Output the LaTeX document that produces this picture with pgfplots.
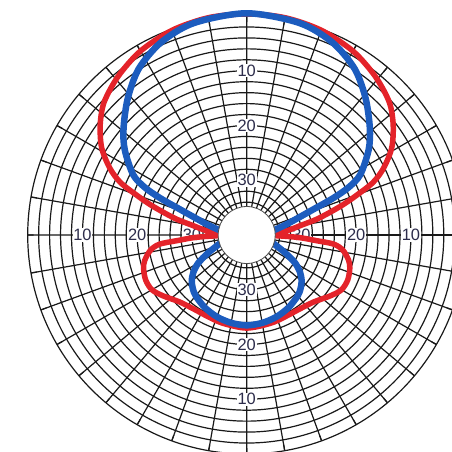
\documentclass[border=0pt]{standalone}
\usepackage{pgfplots}
\pgfplotsset{compat=1.18}
\usepgfplotslibrary{polar}
\usepackage{fontspec}
\setmainfont{Liberation Sans}

\definecolor{patred}{RGB}{228,35,42}
\definecolor{patblue}{RGB}{28,92,190}
\definecolor{lblcol}{RGB}{45,45,75}

\begin{document}
\begin{tikzpicture}
\useasboundingbox (-246.7bp,-217bp) rectangle (205.3bp,235bp);
\begin{polaraxis}[
  at={(0,0)}, anchor=center,
  scale only axis, width=438bp, height=438bp,
  ymin=0, ymax=40,
  xtick={0,10,...,350},
  ytick={6,8,...,38},
  xticklabels={}, yticklabels={},
  grid=major,
  major grid style={black!90, line width=1.2bp},
  axis line style={black!90, line width=1.2bp},
  xtick style={black!90, line width=1.2bp},
  ytick style={draw=none},
  tick align=outside,
  major tick length=6bp,
  clip=false,
]
% level labels (dB below maximum)
\foreach \a in {0,90,180,270}{
  \foreach \r/\t in {30/10,20/20,10/30}{
    \edef\tmp{\noexpand\node[fill=white, inner sep=0.8bp, text=lblcol,
      font=\noexpand\fontsize{16.5}{16.5}\noexpand\selectfont]
      at (axis cs:\a,\r) {\t};}
    \tmp
  }
}

% red pattern
\addplot[patred, line width=5.5bp, smooth, line join=round] coordinates {
  (0,4) (1,4.5) (4,6) (7,8) (10,10) (12.6,13) (15,15.5) (17.5,18.5) (20,21.5)
  (22.6,25) (26,27.8) (31,30.9) (37,33.5) (43,35.6) (51,37.3) (60,38.8)
  (70,39.8) (80,40.3) (90,40.4) (100,40.3) (110,39.8) (120,38.8) (129,37.3)
  (137,35.6) (143,33.5) (149,30.9) (154,27.8) (157.4,25) (160,21.5)
  (162.5,18.5) (165,15.5) (167.4,13) (170,10) (173,8) (176,6) (179,4.5)
  (181,4.5) (182,7.5) (183,10) (184.5,12.5) (186,16) (189,17.8) (194,19.2)
  (198,19.8) (204,20.2) (210,20.0) (216,18.9) (225,17.3) (235,16.6)
  (245,16.5) (255,16.7) (270,17.0) (285,16.7) (295,16.5) (305,16.6)
  (315,17.3) (324,18.9) (330,20.0) (336,20.2) (342,19.8) (346,19.2)
  (351,17.8) (354,16) (355.5,12.5) (357,10) (358,7.5) (359,4.5) (360,4)
};

% blue pattern
\addplot[patblue, line width=6.5bp, smooth, line join=round] coordinates {
  (0,2) (5,3) (10,5) (15,7.5) (19,10.5) (21,13) (23,17) (25,20.5) (28,23.5)
  (35,27.2) (41,29.8) (49,33.1) (57,36.2) (66,38.5) (76,39.9) (90,40.5)
  (104,39.9) (114,38.5) (123,36.2) (131,33.1) (139,29.8) (145,27.2)
  (152,23.5) (155,20.5) (157,17) (159,13) (161,10.5) (165,7.5) (170,5)
  (175,3) (180,2) (185,2) (190,3) (195,4.5) (200,5.8) (205,7.8) (210,10.2)
  (215,11.9) (220,13.1) (225,13.9) (230,14.5) (240,15.3) (250,15.9)
  (260,16.3) (270,16.5) (280,16.3) (290,15.9) (300,15.3) (310,14.5)
  (315,13.9) (320,13.1) (325,11.9) (330,10.2) (335,7.8) (340,5.8)
  (345,4.5) (350,3) (355,2) (360,2)
};

% white hub in the centre
\fill[white, draw=black!70, line width=0.8bp] (axis cs:0,0) circle[radius=28.5bp];
\end{polaraxis}
\end{tikzpicture}
\end{document}
